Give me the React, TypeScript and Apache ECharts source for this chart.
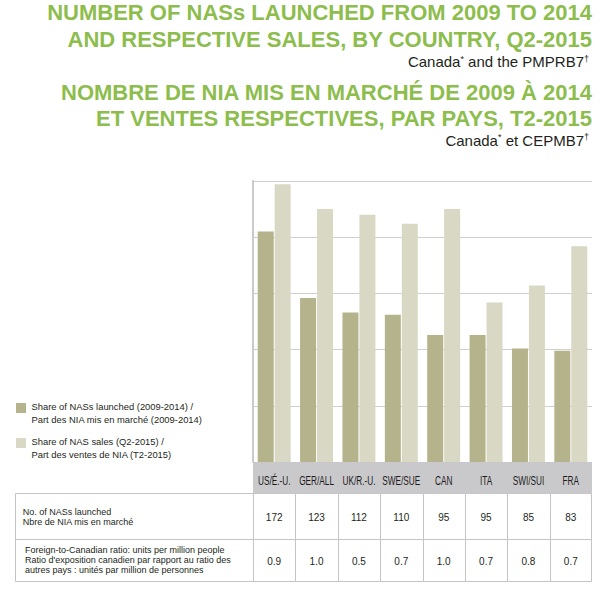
import React, { useEffect, useRef } from "react";
import * as echarts from "echarts";

const categories = ["US/É.-U.", "GER/ALL", "UK/R.-U.", "SWE/SUE", "CAN", "ITA", "SWI/SUI", "FRA"];
const launchedShare = [20.5, 14.6, 13.3, 13.1, 11.3, 11.3, 10.1, 9.9];
const salesShare = [24.7, 22.5, 22.0, 21.2, 22.5, 14.2, 15.7, 19.2];
const nasCounts = ["172", "123", "112", "110", "95", "95", "85", "83"];
const ratios = ["0.9", "1.0", "0.5", "0.7", "1.0", "0.7", "0.8", "0.7"];
const yMax = 25;
const yInterval = 5;

const legendNames = [
  "Share of NASs launched (2009-2014) /\nPart des NIA mis en marché (2009-2014)",
  "Share of NAS sales (Q2-2015) /\nPart des ventes de NIA (T2-2015)",
];
const titleLines = [
  "NUMBER OF NASs LAUNCHED FROM 2009 TO 2014",
  "AND RESPECTIVE SALES, BY COUNTRY, Q2-2015",
  "NOMBRE DE NIA MIS EN MARCHÉ DE 2009 À 2014",
  "ET VENTES RESPECTIVES, PAR PAYS, T2-2015",
];
const subtitles = ["Canada{s|*} and the PMPRB7{s|†}", "Canada{s|*} et CEPMB7{s|†}"];
const rowLabels = [
  "No. of NASs launched\nNbre de NIA mis en marché",
  "Foreign-to-Canadian ratio: units per million people\nRatio d'exposition canadien par rapport au ratio des\nautres pays : unités par million de personnes",
];

const W = 600;
const H = 589;
const GRID_LEFT = 253;
const GRID_RIGHT_X = 592;
const GRID_TOP = 181;
const GRID_BOTTOM_Y = 462;
const DARK = "#b5b38b";
const LIGHT = "#d9d8c5";
const GREEN = "#8dbd4d";
const TEXT = "#231f20";
const BORDER = "#c4c4c4";
const SANS = "'Liberation Sans', Arial, Helvetica, sans-serif";

export default function App() {
  const ref = useRef<HTMLDivElement>(null);
  useEffect(() => {
    if (!ref.current) return;
    const chart = echarts.init(ref.current, undefined, { renderer: "svg" });
    const colW = (GRID_RIGHT_X - GRID_LEFT) / categories.length;
    const tableTop = 493.5;
    const tableBottom = 581.5;
    const tableLeft = 15.5;
    const graphics: any[] = [];

    const titleY = [12.8, 39.2, 92.8, 118.3];
    titleLines.forEach((t, i) => {
      graphics.push({
        type: "text",
        x: 592,
        y: titleY[i],
        style: {
          text: t,
          fill: GREEN,
          font: `bold 22px ${SANS}`,
          align: "right",
          verticalAlign: "middle",
        },
      });
    });
    const subY = [61.5, 140];
    subtitles.forEach((t, i) => {
      graphics.push({
        type: "text",
        x: 589,
        y: subY[i],
        style: {
          text: t,
          fill: TEXT,
          fontSize: 15,
          fontFamily: SANS,
          lineHeight: 15,
          align: "right",
          verticalAlign: "middle",
          rich: { s: { fontSize: 9, fontFamily: SANS, fill: TEXT, verticalAlign: "top", lineHeight: 9 } },
        },
      });
    });

    // legend
    const legendTop = [403, 438];
    [DARK, LIGHT].forEach((c, i) => {
      graphics.push({
        type: "rect",
        shape: { x: 16, y: legendTop[i], width: 10, height: 10 },
        style: { fill: c },
      });
      graphics.push({
        type: "text",
        x: 31.5,
        y: legendTop[i] - 2.6,
        style: {
          text: legendNames[i],
          fill: TEXT,
          fontSize: 9.4,
          fontFamily: SANS,
          lineHeight: 12.6,
          verticalAlign: "top",
        },
      });
    });

    // category band
    graphics.push({
      type: "rect",
      z: 10,
      shape: { x: GRID_LEFT, y: GRID_BOTTOM_Y, width: GRID_RIGHT_X - GRID_LEFT, height: tableTop - GRID_BOTTOM_Y },
      style: { fill: "#c9c9cb" },
    });

    // table
    graphics.push({
      type: "rect",
      shape: { x: tableLeft, y: tableTop, width: GRID_RIGHT_X - 0.5 - tableLeft, height: tableBottom - tableTop },
      style: { fill: "#fff", stroke: BORDER, lineWidth: 1 },
    });
    graphics.push({
      type: "line",
      shape: { x1: tableLeft, y1: 539.5, x2: GRID_RIGHT_X - 0.5, y2: 539.5 },
      style: { stroke: BORDER, lineWidth: 1 },
    });
    for (let k = 0; k < categories.length; k++) {
      const x = Math.round(GRID_LEFT + k * colW) + 0.5;
      graphics.push({
        type: "line",
        shape: { x1: x, y1: tableTop, x2: x, y2: tableBottom },
        style: { stroke: BORDER, lineWidth: 1 },
      });
    }
    graphics.push({
      type: "text",
      x: 22.7,
      y: 507.3,
      style: { text: rowLabels[0], fill: TEXT, fontSize: 9, fontFamily: SANS, lineHeight: 10, verticalAlign: "top" },
    });
    graphics.push({
      type: "text",
      x: 25,
      y: 545.3,
      style: { text: rowLabels[1], fill: TEXT, fontSize: 9, fontFamily: SANS, lineHeight: 9.7, verticalAlign: "top" },
    });

    const hiddenAxis = {
      type: "category" as const,
      position: "bottom" as const,
      axisLine: { show: false },
      axisTick: { show: false },
      splitLine: { show: false },
    };

    const option: any = {
      animation: false,
      grid: {
        left: GRID_LEFT,
        right: W - GRID_RIGHT_X,
        top: GRID_TOP,
        bottom: H - GRID_BOTTOM_Y,
        containLabel: false,
      },
      xAxis: [
        {
          ...hiddenAxis,
          data: categories,
          axisLabel: { show: false },
        },
        {
          ...hiddenAxis,
          data: nasCounts,
          axisLabel: {
            interval: 0,
            margin: 55.5,
            verticalAlign: "middle",
            fontSize: 10,
            fontFamily: SANS,
            color: TEXT,
          },
          z: 20,
        },
        {
          ...hiddenAxis,
          data: ratios,
          axisLabel: {
            interval: 0,
            margin: 99,
            verticalAlign: "middle",
            fontSize: 10,
            fontFamily: SANS,
            color: TEXT,
          },
          z: 20,
        },
      ],
      yAxis: {
        type: "value",
        min: 0,
        max: yMax,
        interval: yInterval,
        axisLabel: { show: false },
        axisTick: { show: false },
        axisLine: { show: true, lineStyle: { color: "#cacaca", width: 2 } },
        splitLine: { show: true, lineStyle: { color: "#cfcfcf", width: 1 } },
      },
      series: [
        {
          type: "bar",
          name: legendNames[0],
          data: launchedShare,
          barWidth: 16,
          barGap: "6%",
          itemStyle: { color: DARK },
        },
        {
          type: "bar",
          name: legendNames[1],
          data: salesShare,
          barWidth: 16,
          barGap: "6%",
          itemStyle: { color: LIGHT },
        },
      ],
      graphic: { elements: graphics },
    };
    chart.setOption(option);

    // condensed category labels placed with the category axis's own scale
    const labelEls = categories.map((c, i) => {
      const px = chart.convertToPixel({ xAxisIndex: 0 }, c) as unknown as number;
      const x = typeof px === "number" ? px : GRID_LEFT + (i + 0.5) * colW;
      return {
        type: "text",
        z: 30,
        x,
        y: 480.7,
        scaleX: 0.66,
        style: {
          text: c,
          fill: "#1e1b1c",
          fontSize: 12.5,
          fontFamily: SANS,
          align: "center",
          verticalAlign: "middle",
        },
      };
    });
    chart.setOption({ graphic: { elements: [...graphics, ...labelEls] } });

    return () => chart.dispose();
  }, []);
  return <div ref={ref} style={{ position: "absolute", left: 0, top: 0, width: W, height: H, background: "#fff" }} />;
}
